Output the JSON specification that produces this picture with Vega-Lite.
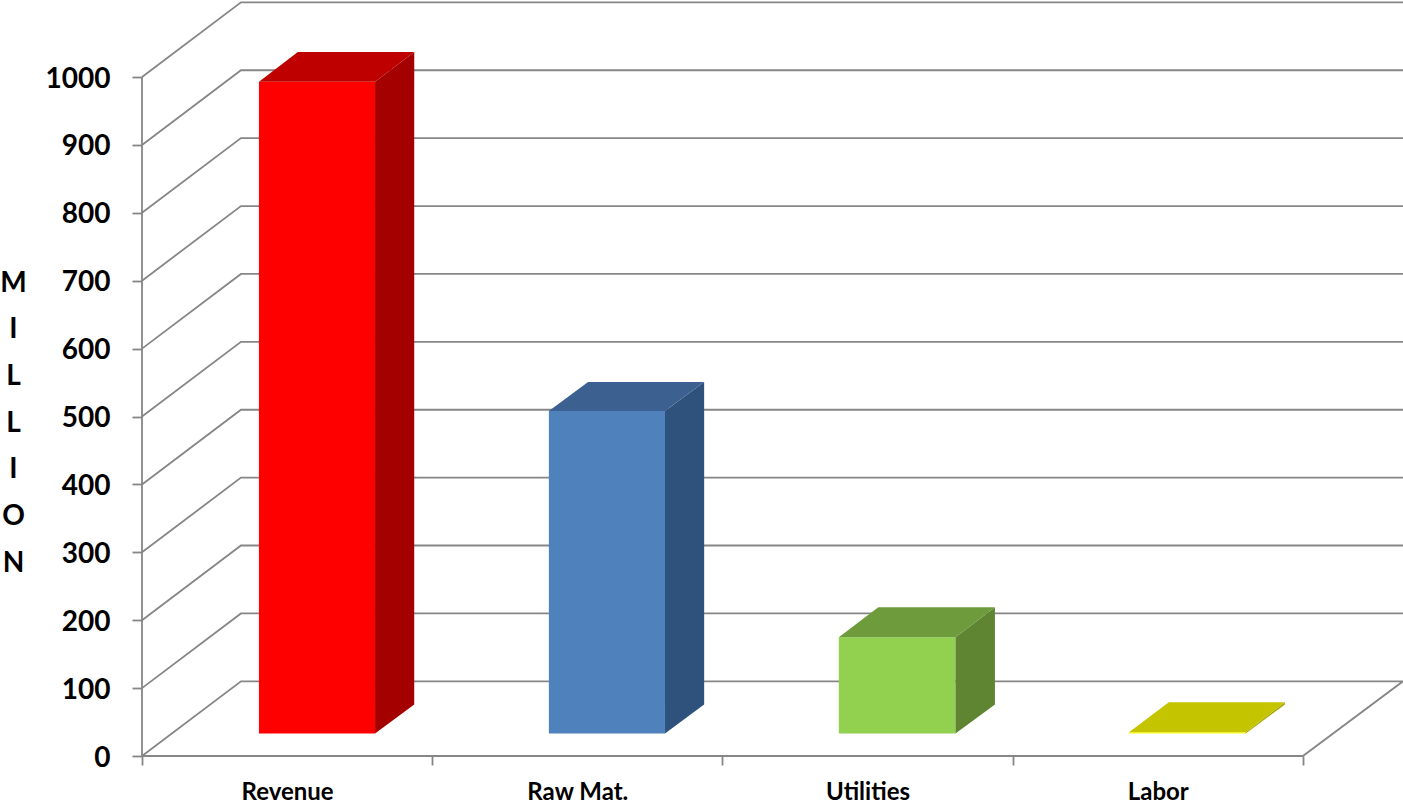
{"$schema":"https://vega.github.io/schema/vega-lite/v6.json","width":1261,"height":755,"autosize":"none","padding":{"left":142,"top":1,"right":0,"bottom":48},"background":"white","config":{"view":{"stroke":null}},
"datasets":{
"grid":[
{"line":"floor","seq":1,"pos":0,"val":0},{"line":"floor","seq":2,"pos":0.341,"val":110},{"line":"floor","seq":3,"pos":4.345,"val":110},{"line":"floor","seq":4,"pos":4,"val":0},{"line":"floor","seq":5,"pos":0,"val":0},
{"line":"wall","seq":1,"pos":0,"val":0},{"line":"wall","seq":2,"pos":0,"val":1000},
{"line":"100","seq":1,"pos":0,"val":100},{"line":"100","seq":2,"pos":0.341,"val":210},{"line":"100","seq":3,"pos":4.345,"val":210},
{"line":"200","seq":1,"pos":0,"val":200},{"line":"200","seq":2,"pos":0.341,"val":310},{"line":"200","seq":3,"pos":4.345,"val":310},
{"line":"300","seq":1,"pos":0,"val":300},{"line":"300","seq":2,"pos":0.341,"val":410},{"line":"300","seq":3,"pos":4.345,"val":410},
{"line":"400","seq":1,"pos":0,"val":400},{"line":"400","seq":2,"pos":0.341,"val":510},{"line":"400","seq":3,"pos":4.345,"val":510},
{"line":"500","seq":1,"pos":0,"val":500},{"line":"500","seq":2,"pos":0.341,"val":610},{"line":"500","seq":3,"pos":4.345,"val":610},
{"line":"600","seq":1,"pos":0,"val":600},{"line":"600","seq":2,"pos":0.341,"val":710},{"line":"600","seq":3,"pos":4.345,"val":710},
{"line":"700","seq":1,"pos":0,"val":700},{"line":"700","seq":2,"pos":0.341,"val":810},{"line":"700","seq":3,"pos":4.345,"val":810},
{"line":"800","seq":1,"pos":0,"val":800},{"line":"800","seq":2,"pos":0.341,"val":910},{"line":"800","seq":3,"pos":4.345,"val":910},
{"line":"900","seq":1,"pos":0,"val":900},{"line":"900","seq":2,"pos":0.341,"val":1010},{"line":"900","seq":3,"pos":4.345,"val":1010},
{"line":"1000","seq":1,"pos":0,"val":1000},{"line":"1000","seq":2,"pos":0.341,"val":1110},{"line":"1000","seq":3,"pos":4.345,"val":1110}
],
"faces":[
{"part":"Revenue front","pos":0.403,"val":993,"low":33},{"part":"Revenue front","pos":0.803,"val":993,"low":33},
{"part":"Revenue side","pos":0.803,"val":993,"low":33},{"part":"Revenue side","pos":0.938,"val":1037,"low":76},
{"part":"Revenue top","pos":0.403,"val":993,"low":993},{"part":"Revenue top","pos":0.537,"val":1037,"low":993},{"part":"Revenue top","pos":0.803,"val":1037,"low":993},{"part":"Revenue top","pos":0.938,"val":1037,"low":1037},
{"part":"Raw Mat. front","pos":1.402,"val":508,"low":33},{"part":"Raw Mat. front","pos":1.802,"val":508,"low":33},
{"part":"Raw Mat. side","pos":1.802,"val":508,"low":33},{"part":"Raw Mat. side","pos":1.937,"val":551,"low":76},
{"part":"Raw Mat. top","pos":1.402,"val":508,"low":508},{"part":"Raw Mat. top","pos":1.537,"val":551,"low":508},{"part":"Raw Mat. top","pos":1.802,"val":551,"low":508},{"part":"Raw Mat. top","pos":1.937,"val":551,"low":551},
{"part":"Utilities front","pos":2.401,"val":175,"low":33},{"part":"Utilities front","pos":2.803,"val":175,"low":33},
{"part":"Utilities side","pos":2.803,"val":175,"low":33},{"part":"Utilities side","pos":2.939,"val":219,"low":76},
{"part":"Utilities top","pos":2.401,"val":175,"low":175},{"part":"Utilities top","pos":2.537,"val":219,"low":175},{"part":"Utilities top","pos":2.803,"val":219,"low":175},{"part":"Utilities top","pos":2.939,"val":219,"low":219},
{"part":"Labor front","pos":3.401,"val":35,"low":33},{"part":"Labor front","pos":3.803,"val":35,"low":33},
{"part":"Labor side","pos":3.803,"val":35,"low":33},{"part":"Labor side","pos":3.938,"val":79,"low":76},
{"part":"Labor top","pos":3.401,"val":35,"low":35},{"part":"Labor top","pos":3.538,"val":79,"low":35},{"part":"Labor top","pos":3.803,"val":79,"low":35},{"part":"Labor top","pos":3.938,"val":79,"low":79}
]},
"encoding":{
"x":{"field":"pos","type":"quantitative","scale":{"domain":[0,4.345],"nice":false,"zero":false},
"axis":{"values":[0,0.5,1,1.5,2,2.5,3,3.5,4],"title":null,"grid":false,"domain":false,"tickColor":"#868686","tickWidth":1.8,"tickSize":9,"tickOpacity":{"condition":{"test":"datum.value % 1 === 0","value":1},"value":0},"labelExpr":"datum.value === 0.5 ? 'Revenue' : datum.value === 1.5 ? 'Raw Mat.' : datum.value === 2.5 ? 'Utilities' : datum.value === 3.5 ? 'Labor' : ''","labelFont":"Lato","labelFontWeight":"bold","labelFontSize":24,"labelColor":"#000000","labelPadding":15,"labelOverlap":false,"labelFlush":false}},
"y":{"field":"val","type":"quantitative","scale":{"domain":[0,1112],"nice":false},
"axis":{"values":[0,100,200,300,400,500,600,700,800,900,1000],"format":"d","grid":false,"domain":false,"tickColor":"#868686","tickWidth":1.8,"tickSize":10,"labelFont":"Lato","labelFontWeight":"bold","labelFontSize":28,"labelColor":"#000000","labelPadding":22,"labelOffset":2,"labelOverlap":false,"labelFlush":false,
"title":["M","I","L","L","I","O","N"],"titleFont":"Lato","titleFontWeight":"bold","titleFontSize":28,"titleColor":"#000000","titleAngle":0,"titleAlign":"center","titleBaseline":"alphabetic","titleLineHeight":46.7,"titleX":-129,"titleY":290}}
},
"layer":[
{"data":{"name":"grid"},"mark":{"type":"line","stroke":"#868686","strokeWidth":1.8,"clip":false},"encoding":{"detail":{"field":"line"},"order":{"field":"seq","type":"quantitative"}}},
{"data":{"name":"faces"},"mark":{"type":"area","opacity":1,"interpolate":"linear"},"encoding":{"y2":{"field":"low"},"fill":{"field":"part","type":"nominal","legend":null,"scale":{
"domain":["Revenue front","Revenue side","Revenue top","Raw Mat. front","Raw Mat. side","Raw Mat. top","Utilities front","Utilities side","Utilities top","Labor front","Labor side","Labor top"],
"range":["#ff0000","#a40000","#bf0000","#4f81bd","#2f527c","#3c6190","#92d050","#5f8533","#6e9c3c","#ffff00","#a5a500","#c4c400"]}}}}
]}
